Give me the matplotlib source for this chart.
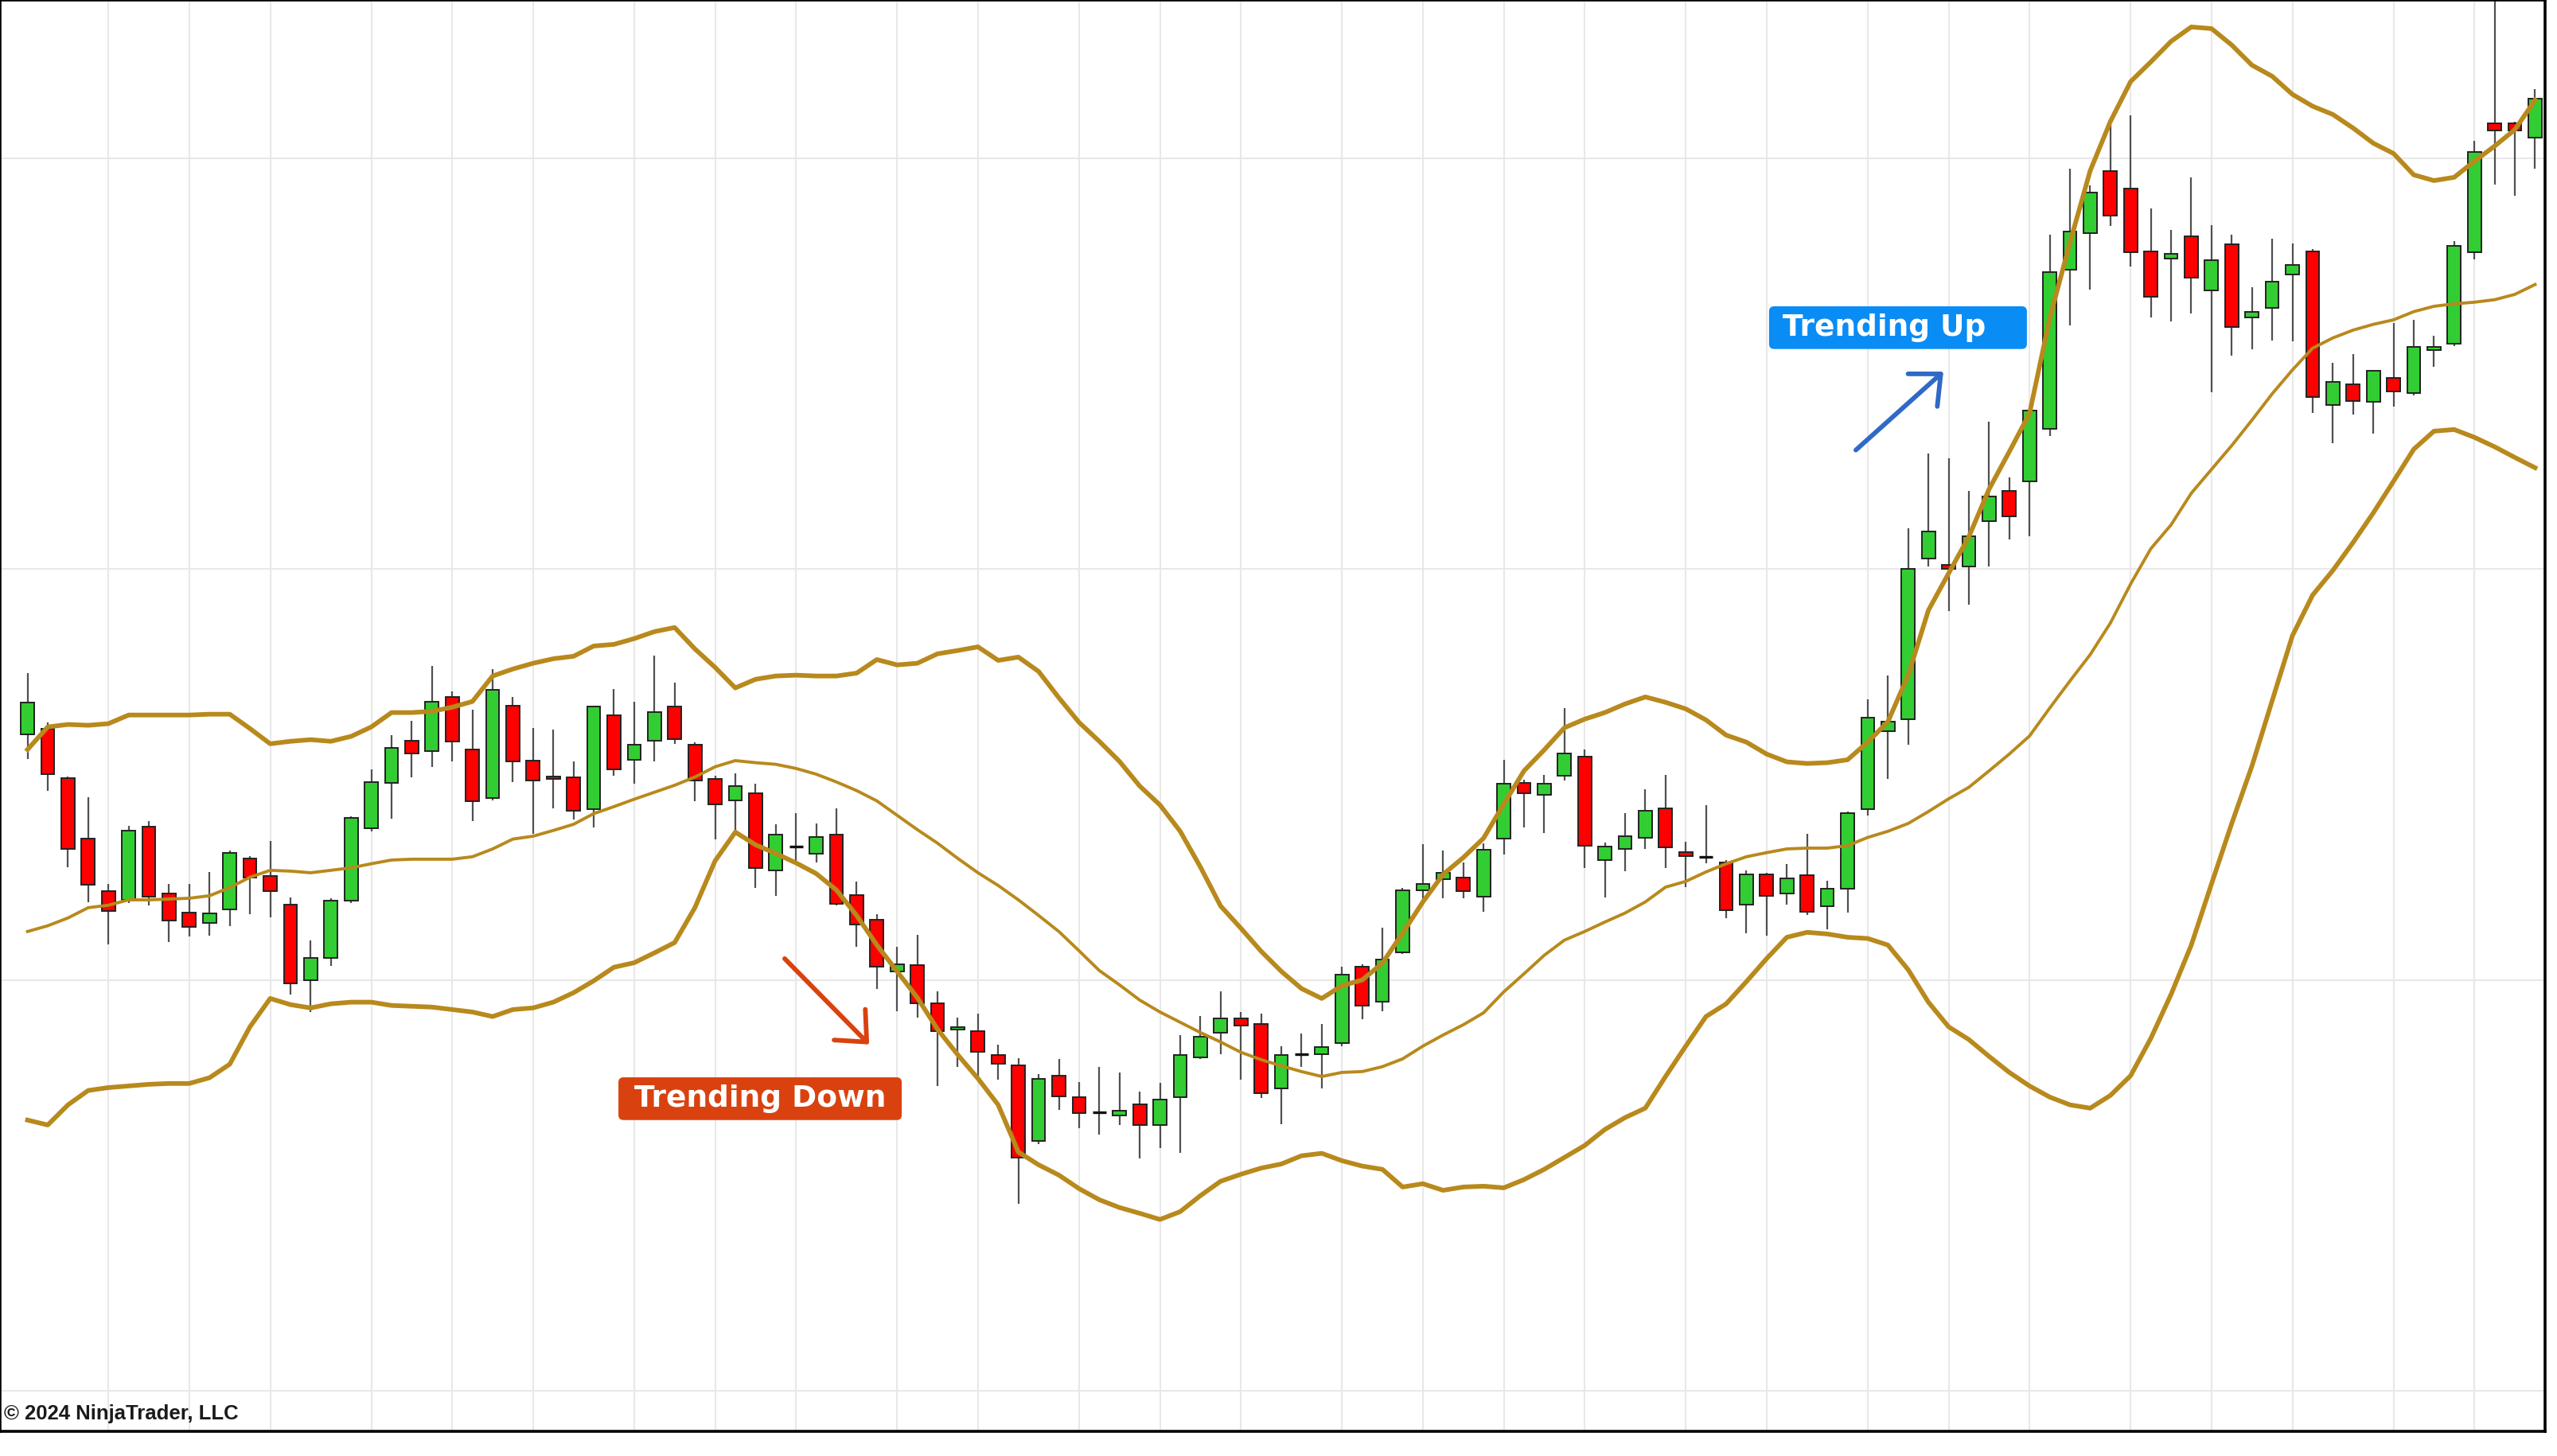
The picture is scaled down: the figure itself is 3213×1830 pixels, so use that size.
#!/usr/bin/env python3
"""
plot.py -- candlestick chart with Bollinger bands (upper / middle / lower),
annotated with "Trending Down" and "Trending Up" labels.

Writes: out.png (3213 x 1830 px)
"""

import matplotlib
matplotlib.use("Agg")
import matplotlib.pyplot as plt
from matplotlib.patches import FancyBboxPatch
import numpy as np

# --- price bars (one per session slot) ---
opens = [
    4115.98, 4116.12, 4114.92, 4113.45, 4112.17, 4111.96, 4113.73, 4112.11, 4111.64, 4111.39,
    4111.72, 4112.96, 4112.53, 4111.84, 4110.00, 4110.54, 4111.93, 4113.70, 4114.80, 4115.83,
    4115.57, 4116.89, 4115.61, 4114.43, 4116.68, 4115.34, 4114.96, 4114.94, 4114.16, 4116.45,
    4115.36, 4115.83, 4116.66, 4115.73, 4114.90, 4114.37, 4114.55, 4112.67, 4113.25, 4113.08,
    4113.54, 4112.07, 4111.47, 4110.21, 4110.37, 4109.44, 4108.80, 4108.76, 4108.18, 4107.92,
    4106.09, 4107.67, 4107.15, 4106.78, 4106.70, 4106.97, 4106.47, 4107.15, 4108.12, 4108.72,
    4109.07, 4108.93, 4107.36, 4108.20, 4108.20, 4108.47, 4110.33, 4109.48, 4110.67, 4112.18,
    4112.45, 4112.49, 4112.03, 4113.44, 4114.80, 4114.51, 4114.98, 4115.44, 4112.92, 4113.19,
    4113.46, 4114.18, 4113.12, 4113.00, 4112.86, 4111.84, 4112.57, 4112.11, 4112.55, 4111.80,
    4112.22, 4114.16, 4116.06, 4116.35, 4120.26, 4120.11, 4120.07, 4121.17, 4121.91, 4122.14,
    4123.42, 4127.29, 4128.19, 4129.70, 4129.27, 4127.74, 4127.57, 4128.11, 4126.79, 4127.91,
    4126.13, 4126.36, 4127.18, 4127.74, 4124.00, 4124.50, 4124.08, 4124.66, 4124.29, 4125.34,
    4125.49, 4127.72, 4130.86, 4130.86, 4130.51,
]
highs = [
    4117.47, 4116.27, 4114.95, 4114.45, 4112.34, 4113.76, 4113.87, 4112.34, 4112.34, 4112.63,
    4113.15, 4113.02, 4113.39, 4112.01, 4110.97, 4111.99, 4113.98, 4115.13, 4115.96, 4116.31,
    4117.65, 4117.03, 4116.58, 4117.57, 4116.89, 4116.14, 4116.10, 4115.32, 4116.68, 4117.09,
    4116.78, 4117.90, 4117.24, 4115.79, 4114.98, 4115.03, 4114.78, 4113.79, 4114.07, 4113.81,
    4114.18, 4112.40, 4111.60, 4110.81, 4111.10, 4109.73, 4109.09, 4109.19, 4108.43, 4108.10,
    4107.71, 4108.08, 4107.52, 4107.89, 4107.75, 4107.28, 4107.50, 4108.66, 4109.13, 4109.73,
    4109.22, 4109.19, 4108.39, 4108.70, 4108.93, 4110.33, 4110.39, 4111.28, 4112.24, 4113.31,
    4113.15, 4112.86, 4113.33, 4115.36, 4114.88, 4115.00, 4116.62, 4115.61, 4113.35, 4114.07,
    4114.65, 4115.00, 4113.37, 4114.26, 4112.92, 4112.67, 4112.60, 4112.82, 4113.56, 4112.42,
    4114.10, 4116.83, 4117.42, 4121.00, 4122.82, 4122.70, 4121.91, 4123.59, 4122.24, 4123.90,
    4128.15, 4129.75, 4129.35, 4130.82, 4131.05, 4128.79, 4128.26, 4129.54, 4128.38, 4128.15,
    4126.87, 4128.05, 4127.93, 4127.80, 4125.03, 4125.24, 4124.85, 4126.00, 4126.07, 4125.69,
    4127.99, 4130.43, 4134.25, 4130.90, 4131.69,
]
lows = [
    4115.38, 4114.61, 4112.75, 4111.90, 4110.87, 4111.88, 4111.82, 4110.93, 4111.06, 4111.08,
    4111.31, 4111.60, 4111.52, 4109.65, 4109.22, 4110.35, 4111.88, 4113.62, 4113.93, 4114.94,
    4115.19, 4115.32, 4113.87, 4114.37, 4114.82, 4113.56, 4114.18, 4113.91, 4113.72, 4114.98,
    4114.78, 4115.32, 4115.75, 4114.36, 4113.42, 4113.64, 4112.24, 4112.05, 4112.86, 4112.86,
    4111.82, 4110.81, 4109.78, 4109.24, 4109.09, 4107.42, 4107.89, 4107.60, 4107.58, 4104.55,
    4106.01, 4106.84, 4106.40, 4106.24, 4106.47, 4105.66, 4105.91, 4105.79, 4108.08, 4108.20,
    4107.58, 4107.13, 4106.49, 4107.89, 4107.36, 4108.39, 4109.05, 4109.24, 4110.63, 4111.95,
    4111.99, 4111.99, 4111.66, 4113.05, 4113.72, 4113.58, 4114.86, 4112.73, 4112.01, 4112.65,
    4113.19, 4112.73, 4112.26, 4112.84, 4111.50, 4111.14, 4111.08, 4111.84, 4111.58, 4111.24,
    4111.64, 4114.00, 4114.90, 4115.73, 4120.07, 4118.99, 4119.14, 4120.07, 4120.73, 4120.81,
    4123.25, 4125.94, 4126.81, 4128.36, 4127.37, 4126.13, 4126.04, 4126.23, 4124.31, 4125.20,
    4125.36, 4125.57, 4125.55, 4123.81, 4123.07, 4123.77, 4123.30, 4123.96, 4124.23, 4124.93,
    4125.43, 4127.55, 4129.37, 4129.10, 4129.75,
]
closes = [
    4116.76, 4115.02, 4113.19, 4112.32, 4111.68, 4113.64, 4112.03, 4111.45, 4111.30, 4111.62,
    4113.10, 4112.49, 4112.17, 4109.92, 4110.54, 4111.93, 4113.95, 4114.82, 4115.65, 4115.52,
    4116.78, 4115.81, 4114.36, 4117.07, 4115.32, 4114.86, 4114.90, 4114.12, 4116.66, 4115.13,
    4115.73, 4116.53, 4115.87, 4114.86, 4114.28, 4114.72, 4112.73, 4113.54, 4113.25, 4113.48,
    4111.86, 4111.35, 4110.33, 4110.39, 4109.44, 4108.76, 4108.86, 4108.26, 4107.96, 4105.68,
    4107.60, 4107.17, 4106.76, 4106.78, 4106.82, 4106.47, 4107.09, 4108.18, 4108.62, 4109.07,
    4108.89, 4107.24, 4108.18, 4108.20, 4108.37, 4110.13, 4109.38, 4110.50, 4112.18, 4112.34,
    4112.61, 4112.17, 4113.17, 4114.78, 4114.55, 4114.78, 4115.52, 4113.27, 4113.25, 4113.50,
    4114.12, 4113.23, 4113.02, 4113.00, 4111.70, 4112.57, 4112.05, 4112.47, 4111.66, 4112.22,
    4114.07, 4116.39, 4116.29, 4120.01, 4120.92, 4120.01, 4120.81, 4121.77, 4121.29, 4123.87,
    4127.24, 4128.22, 4129.17, 4128.61, 4127.72, 4126.64, 4127.68, 4127.10, 4127.53, 4125.90,
    4126.27, 4127.00, 4127.41, 4124.19, 4124.56, 4124.10, 4124.83, 4124.33, 4125.42, 4125.42,
    4127.88, 4130.16, 4130.68, 4130.68, 4131.46,
]

# --- Bollinger bands as drawn on the chart ---
upper_band = [
    4115.61, 4116.16, 4116.22, 4116.20, 4116.24, 4116.45, 4116.45, 4116.45, 4116.45, 4116.47,
    4116.47, 4116.12, 4115.75, 4115.81, 4115.85, 4115.81, 4115.93, 4116.16, 4116.51, 4116.51,
    4116.54, 4116.64, 4116.78, 4117.40, 4117.57, 4117.71, 4117.82, 4117.88, 4118.13, 4118.17,
    4118.31, 4118.48, 4118.58, 4118.06, 4117.61, 4117.11, 4117.32, 4117.40, 4117.42, 4117.40,
    4117.40, 4117.47, 4117.80, 4117.67, 4117.71, 4117.94, 4118.02, 4118.11, 4117.78, 4117.86,
    4117.51, 4116.87, 4116.27, 4115.81, 4115.32, 4114.72, 4114.26, 4113.62, 4112.75, 4111.80,
    4111.26, 4110.70, 4110.21, 4109.79, 4109.55, 4109.86, 4110.00, 4110.41, 4111.14, 4111.90,
    4112.57, 4112.98, 4113.45, 4114.28, 4115.09, 4115.60, 4116.14, 4116.35, 4116.51, 4116.72,
    4116.89, 4116.76, 4116.60, 4116.33, 4115.96, 4115.79, 4115.50, 4115.31, 4115.27, 4115.29,
    4115.36, 4115.79, 4116.29, 4117.42, 4119.00, 4119.90, 4120.79, 4121.95, 4122.86, 4123.79,
    4126.11, 4127.95, 4129.70, 4130.90, 4131.87, 4132.35, 4132.85, 4133.20, 4133.16, 4132.76,
    4132.27, 4132.00, 4131.56, 4131.27, 4131.07, 4130.74, 4130.37, 4130.12, 4129.60, 4129.46,
    4129.54, 4129.93, 4130.30, 4130.70, 4131.42,
]
middle_band = [
    4111.18, 4111.32, 4111.51, 4111.76, 4111.82, 4111.95, 4111.95, 4111.97, 4111.99, 4112.05,
    4112.25, 4112.50, 4112.67, 4112.65, 4112.61, 4112.67, 4112.73, 4112.83, 4112.92, 4112.94,
    4112.94, 4112.94, 4113.00, 4113.19, 4113.43, 4113.50, 4113.64, 4113.79, 4114.05, 4114.22,
    4114.40, 4114.57, 4114.74, 4114.94, 4115.19, 4115.34, 4115.29, 4115.25, 4115.15, 4115.01,
    4114.82, 4114.61, 4114.36, 4114.01, 4113.66, 4113.33, 4112.96, 4112.61, 4112.30, 4111.95,
    4111.57, 4111.18, 4110.71, 4110.23, 4109.88, 4109.51, 4109.22, 4108.97, 4108.72, 4108.49,
    4108.24, 4108.06, 4107.91, 4107.77, 4107.65, 4107.75, 4107.77, 4107.89, 4108.08, 4108.39,
    4108.66, 4108.91, 4109.20, 4109.71, 4110.15, 4110.60, 4110.97, 4111.18, 4111.41, 4111.63,
    4111.90, 4112.26, 4112.40, 4112.63, 4112.83, 4113.00, 4113.10, 4113.19, 4113.21, 4113.21,
    4113.27, 4113.47, 4113.62, 4113.81, 4114.10, 4114.41, 4114.69, 4115.09, 4115.50, 4115.94,
    4116.62, 4117.28, 4117.92, 4118.69, 4119.64, 4120.50, 4121.08, 4121.85, 4122.43, 4123.01,
    4123.63, 4124.27, 4124.85, 4125.38, 4125.63, 4125.82, 4125.96, 4126.07, 4126.27, 4126.40,
    4126.46, 4126.50, 4126.56, 4126.69, 4126.93,
]
lower_band = [
    4106.59, 4106.47, 4106.96, 4107.31, 4107.38, 4107.42, 4107.46, 4107.48, 4107.48, 4107.62,
    4107.95, 4108.86, 4109.55, 4109.40, 4109.32, 4109.42, 4109.46, 4109.46, 4109.38, 4109.36,
    4109.34, 4109.28, 4109.22, 4109.11, 4109.28, 4109.32, 4109.46, 4109.69, 4109.98, 4110.31,
    4110.42, 4110.66, 4110.91, 4111.76, 4112.90, 4113.60, 4113.29, 4113.08, 4112.85, 4112.59,
    4112.19, 4111.57, 4110.85, 4110.21, 4109.57, 4108.80, 4108.18, 4107.60, 4106.96, 4105.81,
    4105.50, 4105.25, 4104.92, 4104.65, 4104.46, 4104.32, 4104.17, 4104.36, 4104.75, 4105.10,
    4105.27, 4105.42, 4105.52, 4105.72, 4105.78, 4105.60, 4105.47, 4105.39, 4104.96, 4105.04,
    4104.88, 4104.96, 4104.98, 4104.94, 4105.14, 4105.39, 4105.68, 4105.97, 4106.36, 4106.65,
    4106.88, 4107.65, 4108.39, 4109.11, 4109.42, 4109.96, 4110.52, 4111.04, 4111.16, 4111.12,
    4111.04, 4111.01, 4110.85, 4110.25, 4109.46, 4108.86, 4108.55, 4108.14, 4107.75, 4107.42,
    4107.15, 4106.96, 4106.88, 4107.19, 4107.67, 4108.58, 4109.65, 4110.85, 4112.34, 4113.81,
    4115.21, 4116.80, 4118.38, 4119.37, 4119.97, 4120.65, 4121.37, 4122.14, 4122.92, 4123.36,
    4123.40, 4123.21, 4122.98, 4122.72, 4122.47,
]

# grid positions: time-label bars on x, round price levels on y
time_ticks = [4, 8, 12, 17, 21, 25, 30, 34, 38, 43, 47, 52, 56, 60, 65, 69, 73, 77,
              82, 86, 91, 95, 99, 104, 108, 112, 117, 121]
price_levels = [4100, 4110, 4120, 4130]

GREEN = "#32CD32"
RED = "#FF0000"
BAND = "#B8891C"
DOWN_COL = "#D9420F"
UP_COL = "#0A8CF5"
W, H = 3213, 1830
AX_W, AX_H = 3198, 1799          # plot frame in px
X_PER_BAR = 25.41                # px per bar
Y_PER_PT = 51.63                 # px per price point


def label_box(ax, x0, x1, y0, y1, color):
    """Rounded label background, given in bar / price units."""
    aspect = (1 / Y_PER_PT) / (1 / X_PER_BAR)
    ax.add_patch(FancyBboxPatch((x0, y0), x1 - x0, y1 - y0,
                                boxstyle="round,pad=0,rounding_size=0.25",
                                mutation_aspect=aspect, fc=color, ec="none", zorder=6))


def main() -> None:
    o, h, l, c = (np.array(v) for v in (opens, highs, lows, closes))
    x = np.arange(len(o))

    fig = plt.figure(figsize=(W / 100, H / 100), dpi=100)
    ax = fig.add_axes([0, (H - AX_H) / H, AX_W / W, AX_H / H])

    # wicks, then bodies
    ax.vlines(x, l, h, color="#505050", lw=1.6, zorder=2)
    doji = np.isclose(o, c)
    body_col = np.where(c >= o, GREEN, RED)
    ax.bar(x[~doji], np.abs(c - o)[~doji], bottom=np.minimum(o, c)[~doji], width=0.66,
           color=body_col[~doji], edgecolor="#222222", linewidth=1.4, zorder=3)
    ax.hlines(o[doji], x[doji] - 0.33, x[doji] + 0.33, color="#111111", lw=2.4, zorder=3)

    # bands drawn on top of price, like the platform does
    ax.plot(x, upper_band, color=BAND, lw=4.2, zorder=4, solid_joinstyle="round")
    ax.plot(x, middle_band, color=BAND, lw=2.8, zorder=4, solid_joinstyle="round")
    ax.plot(x, lower_band, color=BAND, lw=4.2, zorder=4, solid_joinstyle="round")

    ax.set_xlim(-34.6 / X_PER_BAR, (AX_W - 34.6) / X_PER_BAR)
    ax.set_ylim(4100 - (AX_H - 1748) / Y_PER_PT, 4100 + 1748 / Y_PER_PT)
    ax.set_xticks(time_ticks)
    ax.set_yticks(price_levels)
    ax.grid(True, color="#E8E8E8", lw=1.5)
    ax.set_axisbelow(True)
    ax.tick_params(length=0, labelbottom=False, labelleft=False)
    for s in ax.spines.values():
        s.set_color("black")
        s.set_linewidth(2.6)

    # annotations
    label_box(ax, 29.22, 43.23, 4106.59, 4107.63, DOWN_COL)
    ax.text(36.22, 4107.11, "Trending Down", ha="center", va="center", color="white",
            fontsize=27, fontweight="bold", zorder=7)
    ax.annotate("", xy=(41.62, 4108.43), xytext=(37.44, 4110.52),
                arrowprops=dict(arrowstyle="->,head_length=1.0,head_width=0.9", lw=4.2,
                                color=DOWN_COL, mutation_scale=22, shrinkA=0, shrinkB=0),
                zorder=7)
    label_box(ax, 86.12, 98.87, 4125.36, 4126.40, UP_COL)
    ax.text(86.79, 4125.88, "Trending Up", ha="left", va="center", color="white",
            fontsize=27, fontweight="bold", zorder=7)
    ax.annotate("", xy=(94.74, 4124.81), xytext=(90.41, 4122.90),
                arrowprops=dict(arrowstyle="->,head_length=1.0,head_width=0.9", lw=4.2,
                                color="#3069C6", mutation_scale=22, shrinkA=0, shrinkB=0),
                zorder=7)

    ax.text(0.0015, 0.012, "© 2024 NinjaTrader, LLC", transform=ax.transAxes,
            ha="left", va="center", fontsize=18.5, fontweight="bold",
            family=["Liberation Sans", "DejaVu Sans"], color="#1a1a1a", zorder=7)

    fig.savefig("out.png", dpi=100, facecolor="white")
    plt.close(fig)


if __name__ == "__main__":
    main()
